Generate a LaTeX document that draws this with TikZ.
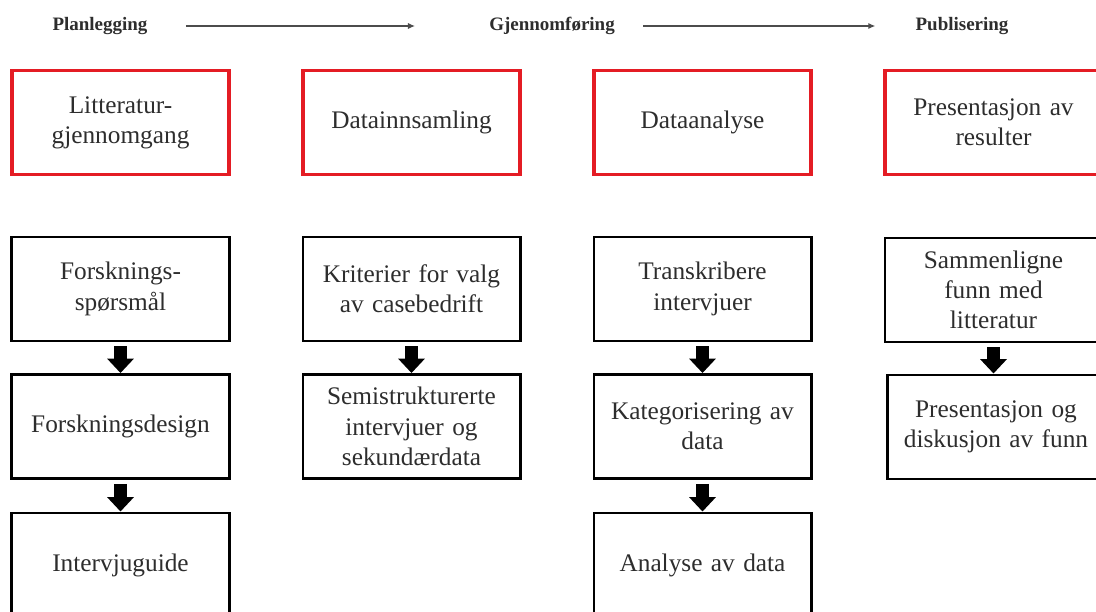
\documentclass[tikz,border=0pt]{standalone}
\usepackage{fontspec}
\setmainfont{Liberation Serif}
\usetikzlibrary{arrows.meta}
\definecolor{boxred}{RGB}{228,28,36}
\definecolor{txt}{RGB}{45,45,45}
\begin{document}
\begin{tikzpicture}[x=0.025cm, y=-0.025cm,
    phase/.style={font=\fontsize{13.5}{16}\selectfont\bfseries, text=txt, inner sep=0pt},
    stage/.style={draw=boxred, line width=2.8pt, minimum width=5.425cm, minimum height=2.6cm,
        text width=5.1cm, align=center, inner sep=0pt, text=txt, font=\fontsize{18}{21.5}\selectfont},
    task/.style={stage, draw=black, line width=2.1pt},
    flow/.style={-{Triangle[width=0.65cm,length=0.36cm]}, line width=0.33cm, shorten <=0.1cm},
    timeline/.style={-{Latex[length=5pt,width=4.5pt]}, line width=0.9pt, draw=black!70}]
            \useasboundingbox (0,0) rectangle (1096,611);
            % phases along the top
            \node[phase] (plan) at (100,26) {Planlegging};
            \node[phase] (gjen) at (552,26) {Gjennomføring};
            \node[phase] (publ) at (962,26) {Publisering};
            \draw[timeline, shorten <=0.95cm, shorten >=1.85cm] (plan) -- (gjen);
            \draw[timeline, shorten <=0.7cm, shorten >=1cm] (gjen) -- (publ);
            % red boxes
            \node[stage] (litt) at (120.5,122.5) {Litteratur-\\gjennomgang};
            \node[stage] (innsamling) at (411.5,122.5) {Datainnsamling};
            \node[stage] (analyse) at (702.5,122.5) {Dataanalyse};
            \node[stage] (resultat) at (993.5,122.5) {Presentasjon av\\resulter};
            % column 1
            \node[task] (sporsmal) at (120.5,289) {Forsknings-\\spørsmål};
            \node[task] (design) at (120.5,426.5) {Forskningsdesign};
            \node[task] (guide) at (120.5,565) {Intervjuguide};
            \draw[flow] (sporsmal) -- (design);
            \draw[flow] (design) -- (guide);
            % column 2
            \node[task] (kriterier) at (411.5,289) {Kriterier for valg\\av casebedrift};
            \node[task] (intervju) at (411.5,426.5) {Semistrukturerte\\intervjuer og\\sekundærdata};
            \draw[flow] (kriterier) -- (intervju);
            % column 3
            \node[task] (transkr) at (702.5,289) {Transkribere\\intervjuer};
            \node[task] (kategori) at (702.5,426.5) {Kategorisering av\\data};
            \node[task] (analysedata) at (702.5,565) {Analyse av data};
            \draw[flow] (transkr) -- (kategori);
            \draw[flow] (kategori) -- (analysedata);
            % column 4
            \node[task] (sammenligne) at (993.5,290) {Sammenligne\\funn med\\litteratur};
            \node[task] (diskusjon) at (996,427) {Presentasjon og\\diskusjon av funn};
            \draw[flow] (sammenligne) -- (sammenligne |- diskusjon.north);
\end{tikzpicture}
\end{document}
